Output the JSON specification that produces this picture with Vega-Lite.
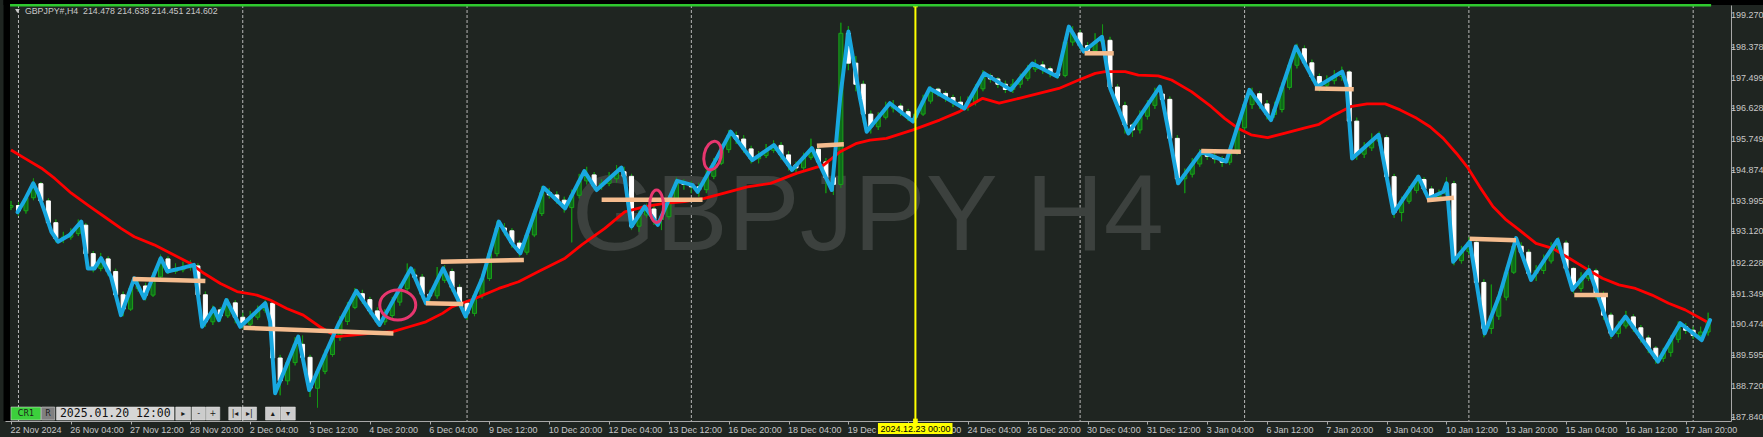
{
"$schema": "https://vega.github.io/schema/vega-lite/v6.json",
"width": 1726, "height": 416,
"autosize": {"type": "none"},
"padding": {"left": 5, "top": 5, "right": 32, "bottom": 16},
"background": "#1f2521",
"config": {"view": {"stroke": null}, "axis": {"labelOverlap": false, "labelBound": false, "labelFlush": false, "grid": false}},
"datasets": {
"sep": [{"i":1},{"i":31},{"i":61},{"i":91},{"i":143},{"i":165},{"i":195},{"i":225}],
"wm": [{"i":114.6,"p":192.58,"t":"GBPJPY H4"}],
"frame": [{"i":-1,"i2":236,"p":199.5546,"p2":199.9},{"i":-1,"i2":-0.133,"p":187.7177,"p2":199.9}],
"ylab": [{"p":187.84,"t":"187.840"},{"p":188.72,"t":"188.720"},{"p":189.59,"t":"189.595"},{"p":190.47,"t":"190.474"},{"p":191.34,"t":"191.349"},{"p":192.22,"t":"192.228"},{"p":193.12,"t":"193.120"},{"p":193.99,"t":"193.995"},{"p":194.87,"t":"194.874"},{"p":195.74,"t":"195.749"},{"p":196.62,"t":"196.628"},{"p":197.49,"t":"197.499"},{"p":198.37,"t":"198.378"},{"p":199.27,"t":"199.270"}],
"candles": [
{"i":0,"o":193.80,"h":193.98,"l":193.72,"c":193.85},{"i":1,"o":193.85,"h":193.95,"l":193.55,"c":193.70},{"i":2,"o":193.70,"h":194.15,"l":193.62,"c":194.07},{"i":3,"o":194.07,"h":194.62,"l":194.00,"c":194.47},{"i":4,"o":194.47,"h":194.52,"l":193.90,"c":193.98},{"i":5,"o":193.98,"h":194.05,"l":193.25,"c":193.36},{"i":6,"o":193.36,"h":193.45,"l":192.80,"c":192.91},{"i":7,"o":192.91,"h":193.10,"l":192.78,"c":192.95},{"i":8,"o":192.95,"h":193.20,"l":192.88,"c":193.05},{"i":9,"o":193.05,"h":193.45,"l":192.98,"c":193.29},
{"i":10,"o":193.29,"h":193.35,"l":192.40,"c":192.48},{"i":11,"o":192.48,"h":192.55,"l":191.95,"c":192.06},{"i":12,"o":192.06,"h":192.50,"l":191.98,"c":192.33},{"i":13,"o":192.33,"h":192.40,"l":191.85,"c":191.97},{"i":14,"o":191.97,"h":192.05,"l":191.20,"c":191.31},{"i":15,"o":191.31,"h":191.40,"l":190.70,"c":190.90},{"i":16,"o":190.90,"h":191.60,"l":190.85,"c":191.49},{"i":17,"o":191.49,"h":191.70,"l":191.40,"c":191.56},{"i":18,"o":191.56,"h":191.65,"l":191.15,"c":191.30},{"i":19,"o":191.30,"h":191.95,"l":191.25,"c":191.82},
{"i":20,"o":191.82,"h":192.45,"l":191.75,"c":192.33},{"i":21,"o":192.33,"h":192.40,"l":191.90,"c":191.97},{"i":22,"o":191.97,"h":192.20,"l":191.90,"c":192.02},{"i":23,"o":192.02,"h":192.25,"l":191.95,"c":192.08},{"i":24,"o":192.08,"h":192.30,"l":192.00,"c":192.13},{"i":25,"o":192.13,"h":192.20,"l":191.20,"c":191.31},{"i":26,"o":191.31,"h":191.40,"l":190.40,"c":190.54},{"i":27,"o":190.54,"h":191.00,"l":190.45,"c":190.88},{"i":28,"o":190.88,"h":190.95,"l":190.55,"c":190.71},{"i":29,"o":190.71,"h":191.20,"l":190.65,"c":191.08},
{"i":30,"o":191.08,"h":191.15,"l":190.50,"c":190.67},{"i":31,"o":190.67,"h":190.80,"l":190.35,"c":190.47},{"i":32,"o":190.47,"h":190.85,"l":190.40,"c":190.67},{"i":33,"o":190.67,"h":191.00,"l":190.60,"c":190.87},{"i":34,"o":190.87,"h":191.15,"l":190.80,"c":191.07},{"i":35,"o":191.07,"h":191.12,"l":189.40,"c":189.51},{"i":36,"o":189.51,"h":189.60,"l":188.45,"c":188.86},{"i":37,"o":188.86,"h":189.50,"l":188.75,"c":189.38},{"i":38,"o":189.38,"h":190.10,"l":189.30,"c":189.90},{"i":39,"o":189.90,"h":190.15,"l":189.40,"c":189.53},
{"i":40,"o":189.53,"h":189.60,"l":188.40,"c":188.65},{"i":41,"o":188.65,"h":189.25,"l":188.10,"c":189.13},{"i":42,"o":189.13,"h":189.75,"l":189.05,"c":189.61},{"i":43,"o":189.61,"h":190.20,"l":189.55,"c":190.09},{"i":44,"o":190.09,"h":190.70,"l":190.00,"c":190.55},{"i":45,"o":190.55,"h":191.10,"l":190.45,"c":190.95},{"i":46,"o":190.95,"h":191.50,"l":190.90,"c":191.34},{"i":47,"o":191.34,"h":191.45,"l":191.05,"c":191.17},{"i":48,"o":191.17,"h":191.25,"l":190.75,"c":190.85},{"i":49,"o":190.85,"h":190.95,"l":190.45,"c":190.54},
{"i":50,"o":190.54,"h":190.90,"l":190.45,"c":190.72},{"i":51,"o":190.72,"h":191.25,"l":190.65,"c":191.10},{"i":52,"o":191.10,"h":191.60,"l":191.00,"c":191.48},{"i":53,"o":191.48,"h":192.20,"l":191.40,"c":191.87},{"i":54,"o":191.87,"h":192.05,"l":191.70,"c":191.81},{"i":55,"o":191.81,"h":191.90,"l":191.20,"c":191.32},{"i":56,"o":191.32,"h":191.45,"l":191.10,"c":191.28},{"i":57,"o":191.28,"h":192.10,"l":191.20,"c":191.72},{"i":58,"o":191.72,"h":192.15,"l":191.65,"c":191.97},{"i":59,"o":191.97,"h":192.05,"l":191.40,"c":191.52},
{"i":60,"o":191.52,"h":191.60,"l":190.95,"c":191.07},{"i":61,"o":191.07,"h":191.15,"l":190.60,"c":190.78},{"i":62,"o":190.78,"h":191.40,"l":190.70,"c":191.28},{"i":63,"o":191.28,"h":191.90,"l":191.20,"c":191.77},{"i":64,"o":191.77,"h":192.60,"l":191.70,"c":192.48},{"i":65,"o":192.48,"h":193.40,"l":192.40,"c":193.21},{"i":66,"o":193.21,"h":193.35,"l":193.00,"c":193.13},{"i":67,"o":193.13,"h":193.20,"l":192.65,"c":192.78},{"i":68,"o":192.78,"h":192.85,"l":192.40,"c":192.52},{"i":69,"o":192.52,"h":193.15,"l":192.45,"c":193.01},
{"i":70,"o":193.01,"h":193.75,"l":192.95,"c":193.62},{"i":71,"o":193.62,"h":194.40,"l":193.55,"c":194.22},{"i":72,"o":194.22,"h":194.35,"l":194.05,"c":194.15},{"i":73,"o":194.15,"h":194.25,"l":193.90,"c":194.00},{"i":74,"o":194.00,"h":194.10,"l":193.65,"c":193.79},{"i":75,"o":193.79,"h":194.30,"l":192.80,"c":194.14},{"i":76,"o":194.14,"h":194.75,"l":194.05,"c":194.55},{"i":77,"o":194.55,"h":194.95,"l":194.45,"c":194.72},{"i":78,"o":194.72,"h":194.80,"l":194.30,"c":194.40},{"i":79,"o":194.40,"h":194.60,"l":194.30,"c":194.48},
{"i":80,"o":194.48,"h":194.80,"l":194.40,"c":194.61},{"i":81,"o":194.61,"h":195.00,"l":194.50,"c":194.81},{"i":82,"o":194.81,"h":194.95,"l":194.55,"c":194.68},{"i":83,"o":194.68,"h":194.75,"l":193.15,"c":193.26},{"i":84,"o":193.26,"h":193.70,"l":193.10,"c":193.58},{"i":85,"o":193.58,"h":193.90,"l":193.50,"c":193.75},{"i":86,"o":193.75,"h":193.85,"l":193.30,"c":193.45},{"i":87,"o":193.45,"h":193.65,"l":193.15,"c":193.53},{"i":88,"o":193.53,"h":194.15,"l":193.45,"c":194.02},{"i":89,"o":194.02,"h":194.65,"l":193.95,"c":194.51},
{"i":90,"o":194.51,"h":194.60,"l":194.30,"c":194.45},{"i":91,"o":194.45,"h":194.55,"l":194.20,"c":194.38},{"i":92,"o":194.38,"h":194.50,"l":194.10,"c":194.30},{"i":93,"o":194.30,"h":194.85,"l":194.20,"c":194.68},{"i":94,"o":194.68,"h":195.20,"l":194.60,"c":195.05},{"i":95,"o":195.05,"h":195.60,"l":195.00,"c":195.44},{"i":96,"o":195.44,"h":196.00,"l":195.35,"c":195.84},{"i":97,"o":195.84,"h":195.95,"l":195.60,"c":195.74},{"i":98,"o":195.74,"h":195.85,"l":195.35,"c":195.46},{"i":99,"o":195.46,"h":195.55,"l":195.05,"c":195.18},
{"i":100,"o":195.18,"h":195.40,"l":195.05,"c":195.27},{"i":101,"o":195.27,"h":195.60,"l":195.20,"c":195.42},{"i":102,"o":195.42,"h":195.70,"l":195.35,"c":195.56},{"i":103,"o":195.56,"h":195.65,"l":195.15,"c":195.29},{"i":104,"o":195.29,"h":195.40,"l":194.85,"c":195.00},{"i":105,"o":195.00,"h":195.10,"l":194.80,"c":194.92},{"i":106,"o":194.92,"h":195.35,"l":194.85,"c":195.22},{"i":107,"o":195.22,"h":195.75,"l":195.15,"c":195.45},{"i":108,"o":195.45,"h":195.55,"l":194.95,"c":195.09},{"i":109,"o":195.09,"h":195.20,"l":194.20,"c":194.64},
{"i":110,"o":194.64,"h":194.80,"l":194.15,"c":194.45},{"i":111,"o":194.45,"h":199.05,"l":194.35,"c":198.75},{"i":112,"o":198.75,"h":198.95,"l":197.70,"c":197.90},{"i":113,"o":197.90,"h":198.10,"l":197.10,"c":197.30},{"i":114,"o":197.30,"h":197.40,"l":196.20,"c":196.45},{"i":115,"o":196.45,"h":196.55,"l":195.90,"c":196.09},{"i":116,"o":196.09,"h":196.50,"l":196.00,"c":196.36},{"i":117,"o":196.36,"h":196.80,"l":196.30,"c":196.62},{"i":118,"o":196.62,"h":196.85,"l":196.50,"c":196.68},{"i":119,"o":196.68,"h":196.75,"l":196.40,"c":196.52},
{"i":120,"o":196.52,"h":196.60,"l":196.25,"c":196.35},{"i":121,"o":196.35,"h":196.60,"l":196.20,"c":196.45},{"i":122,"o":196.45,"h":197.00,"l":196.40,"c":196.82},{"i":123,"o":196.82,"h":197.25,"l":196.75,"c":197.16},{"i":124,"o":197.16,"h":197.20,"l":196.95,"c":197.04},{"i":125,"o":197.04,"h":197.10,"l":196.80,"c":196.92},{"i":126,"o":196.92,"h":197.00,"l":196.65,"c":196.79},{"i":127,"o":196.79,"h":196.95,"l":196.55,"c":196.67},{"i":128,"o":196.67,"h":196.95,"l":196.55,"c":196.79},{"i":129,"o":196.79,"h":197.30,"l":196.70,"c":197.17},
{"i":130,"o":197.17,"h":197.70,"l":197.10,"c":197.54},{"i":131,"o":197.54,"h":197.60,"l":197.35,"c":197.45},{"i":132,"o":197.45,"h":197.50,"l":197.20,"c":197.30},{"i":133,"o":197.30,"h":197.40,"l":197.05,"c":197.15},{"i":134,"o":197.15,"h":197.45,"l":197.05,"c":197.30},{"i":135,"o":197.30,"h":197.60,"l":197.20,"c":197.47},{"i":136,"o":197.47,"h":197.85,"l":197.40,"c":197.73},{"i":137,"o":197.73,"h":198.00,"l":197.65,"c":197.85},{"i":138,"o":197.85,"h":197.95,"l":197.60,"c":197.74},{"i":139,"o":197.74,"h":197.80,"l":197.50,"c":197.62},
{"i":140,"o":197.62,"h":197.75,"l":197.45,"c":197.55},{"i":141,"o":197.55,"h":198.65,"l":197.50,"c":198.50},{"i":142,"o":198.50,"h":198.95,"l":198.40,"c":198.76},{"i":143,"o":198.76,"h":198.85,"l":198.30,"c":198.40},{"i":144,"o":198.40,"h":198.50,"l":198.15,"c":198.25},{"i":145,"o":198.25,"h":198.75,"l":198.20,"c":198.50},{"i":146,"o":198.50,"h":199.00,"l":198.35,"c":198.55},{"i":147,"o":198.55,"h":198.65,"l":197.10,"c":197.22},{"i":148,"o":197.22,"h":197.30,"l":196.55,"c":196.69},{"i":149,"o":196.69,"h":196.80,"l":195.90,"c":196.14},
{"i":150,"o":196.14,"h":196.20,"l":195.80,"c":196.00},{"i":151,"o":196.00,"h":196.55,"l":195.90,"c":196.39},{"i":152,"o":196.39,"h":196.85,"l":196.30,"c":196.70},{"i":153,"o":196.70,"h":197.20,"l":196.60,"c":197.02},{"i":154,"o":197.02,"h":197.10,"l":196.70,"c":196.87},{"i":155,"o":196.87,"h":196.95,"l":195.60,"c":195.76},{"i":156,"o":195.76,"h":195.85,"l":194.45,"c":194.61},{"i":157,"o":194.61,"h":194.90,"l":194.20,"c":194.74},{"i":158,"o":194.74,"h":195.20,"l":194.65,"c":195.03},{"i":159,"o":195.03,"h":195.45,"l":194.95,"c":195.32},
{"i":160,"o":195.32,"h":195.40,"l":195.15,"c":195.25},{"i":161,"o":195.25,"h":195.35,"l":195.05,"c":195.18},{"i":162,"o":195.18,"h":195.25,"l":194.95,"c":195.08},{"i":163,"o":195.08,"h":195.55,"l":195.00,"c":195.40},{"i":164,"o":195.40,"h":196.20,"l":195.30,"c":196.06},{"i":165,"o":196.06,"h":196.90,"l":196.00,"c":196.72},{"i":166,"o":196.72,"h":197.20,"l":196.60,"c":197.03},{"i":167,"o":197.03,"h":197.10,"l":196.60,"c":196.74},{"i":168,"o":196.74,"h":196.85,"l":196.30,"c":196.44},{"i":169,"o":196.44,"h":196.80,"l":196.35,"c":196.58},
{"i":170,"o":196.58,"h":197.35,"l":196.50,"c":197.21},{"i":171,"o":197.21,"h":198.00,"l":197.15,"c":197.84},{"i":172,"o":197.84,"h":198.45,"l":197.75,"c":198.31},{"i":173,"o":198.31,"h":198.40,"l":197.80,"c":197.91},{"i":174,"o":197.91,"h":198.00,"l":197.40,"c":197.52},{"i":175,"o":197.52,"h":197.60,"l":197.10,"c":197.27},{"i":176,"o":197.27,"h":197.55,"l":197.20,"c":197.40},{"i":177,"o":197.40,"h":197.70,"l":197.30,"c":197.52},{"i":178,"o":197.52,"h":197.80,"l":197.40,"c":197.65},{"i":179,"o":197.65,"h":197.70,"l":196.10,"c":196.25},
{"i":180,"o":196.25,"h":196.35,"l":195.15,"c":195.31},{"i":181,"o":195.31,"h":195.65,"l":195.20,"c":195.49},{"i":182,"o":195.49,"h":195.90,"l":195.40,"c":195.68},{"i":183,"o":195.68,"h":195.95,"l":195.55,"c":195.78},{"i":184,"o":195.78,"h":195.85,"l":194.50,"c":194.67},{"i":185,"o":194.67,"h":194.75,"l":193.50,"c":193.65},{"i":186,"o":193.65,"h":194.10,"l":193.40,"c":193.97},{"i":187,"o":193.97,"h":194.40,"l":193.90,"c":194.28},{"i":188,"o":194.28,"h":194.70,"l":194.20,"c":194.59},{"i":189,"o":194.59,"h":194.65,"l":194.20,"c":194.32},
{"i":190,"o":194.32,"h":194.40,"l":193.95,"c":194.09},{"i":191,"o":194.09,"h":194.30,"l":194.00,"c":194.18},{"i":192,"o":194.18,"h":194.65,"l":194.10,"c":194.47},{"i":193,"o":194.47,"h":194.55,"l":192.15,"c":192.28},{"i":194,"o":192.28,"h":192.70,"l":192.20,"c":192.54},{"i":195,"o":192.54,"h":192.95,"l":192.45,"c":192.80},{"i":196,"o":192.80,"h":192.90,"l":191.50,"c":191.66},{"i":197,"o":191.66,"h":191.75,"l":190.10,"c":190.35},{"i":198,"o":190.35,"h":191.60,"l":190.20,"c":190.70},{"i":199,"o":190.70,"h":191.40,"l":190.60,"c":191.24},
{"i":200,"o":191.24,"h":192.10,"l":191.15,"c":191.95},{"i":201,"o":191.95,"h":192.85,"l":191.90,"c":192.69},{"i":202,"o":192.69,"h":192.80,"l":192.40,"c":192.52},{"i":203,"o":192.52,"h":192.60,"l":191.80,"c":191.92},{"i":204,"o":191.92,"h":192.15,"l":191.70,"c":192.00},{"i":205,"o":192.00,"h":192.45,"l":191.90,"c":192.27},{"i":206,"o":192.27,"h":192.80,"l":192.20,"c":192.59},{"i":207,"o":192.59,"h":192.95,"l":192.50,"c":192.78},{"i":208,"o":192.78,"h":192.85,"l":191.95,"c":192.06},{"i":209,"o":192.06,"h":192.10,"l":191.35,"c":191.49},
{"i":210,"o":191.49,"h":191.95,"l":191.40,"c":191.78},{"i":211,"o":191.78,"h":192.15,"l":191.70,"c":191.99},{"i":212,"o":191.99,"h":192.05,"l":191.20,"c":191.34},{"i":213,"o":191.34,"h":191.40,"l":190.60,"c":190.73},{"i":214,"o":190.73,"h":190.80,"l":190.05,"c":190.21},{"i":215,"o":190.21,"h":190.55,"l":190.10,"c":190.42},{"i":216,"o":190.42,"h":190.85,"l":190.35,"c":190.68},{"i":217,"o":190.68,"h":190.75,"l":190.25,"c":190.37},{"i":218,"o":190.37,"h":190.45,"l":189.95,"c":190.08},{"i":219,"o":190.08,"h":190.15,"l":189.65,"c":189.79},
{"i":220,"o":189.79,"h":189.85,"l":189.35,"c":189.50},{"i":221,"o":189.50,"h":189.80,"l":189.40,"c":189.67},{"i":222,"o":189.67,"h":190.15,"l":189.55,"c":190.04},{"i":223,"o":190.04,"h":190.55,"l":189.95,"c":190.40},{"i":224,"o":190.40,"h":190.50,"l":190.20,"c":190.30},{"i":225,"o":190.30,"h":190.40,"l":190.05,"c":190.15},{"i":226,"o":190.15,"h":190.40,"l":190.00,"c":190.25},{"i":227,"o":190.25,"h":190.80,"l":190.15,"c":190.55}
],
"red": [
{"i":0,"p":195.43},{"i":1.86,"p":195.19},{"i":4.08,"p":194.91},{"i":5.85,"p":194.62},{"i":8.07,"p":194.20},{"i":10.28,"p":193.86},{"i":12.5,"p":193.53},{"i":14.71,"p":193.20},{"i":16.49,"p":192.96},{"i":19.15,"p":192.73},{"i":21.81,"p":192.44},{"i":24.02,"p":192.20},{"i":25.8,"p":191.92},{"i":28.01,"p":191.63},{"i":30.23,"p":191.40},{"i":32.89,"p":191.30},{"i":34.66,"p":191.16},{"i":36.88,"p":190.92},{"i":39.09,"p":190.73},{"i":41.31,"p":190.40},{"i":43.53,"p":190.12},{"i":45.74,"p":190.16},{"i":47.96,"p":190.21},{"i":51.06,"p":190.26},{"i":53.28,"p":190.40},{"i":55.5,"p":190.54},{"i":57.71,"p":190.78},{"i":59.04,"p":190.97},{"i":62.14,"p":191.21},{"i":65.25,"p":191.49},{"i":67.9,"p":191.68},{"i":70.56,"p":191.97},{"i":74.11,"p":192.35},{"i":76.33,"p":192.73},{"i":79.43,"p":193.20},{"i":82.09,"p":193.67},{"i":84.75,"p":193.82},{"i":87.41,"p":193.91},{"i":90.07,"p":193.96},{"i":92.73,"p":194.05},{"i":95.39,"p":194.20},{"i":98.49,"p":194.38},{"i":101.6,"p":194.48},{"i":105.14,"p":194.77},{"i":108.69,"p":195.0},{"i":110.9,"p":195.38},{"i":113.12,"p":195.62},{"i":114.89,"p":195.71},{"i":117.1,"p":195.76},{"i":120.65,"p":196.0},{"i":124.2,"p":196.28},{"i":126.86,"p":196.52},{"i":129.96,"p":196.9},{"i":132.18,"p":196.76},{"i":134.84,"p":196.9},{"i":137.5,"p":197.04},{"i":140.16,"p":197.18},{"i":142.82,"p":197.42},{"i":145.03,"p":197.61},{"i":146.36,"p":197.66},{"i":149.02,"p":197.66},{"i":150.79,"p":197.56},{"i":153.45,"p":197.54},{"i":155.23,"p":197.42},{"i":157.89,"p":197.09},{"i":160.55,"p":196.66},{"i":162.32,"p":196.33},{"i":164.09,"p":196.05},{"i":165.87,"p":195.86},{"i":168.08,"p":195.78},{"i":170.3,"p":195.90},{"i":172.96,"p":196.05},{"i":174.95,"p":196.16},{"i":176.95,"p":196.42},{"i":179.16,"p":196.66},{"i":181.38,"p":196.74},{"i":183.82,"p":196.74},{"i":185.81,"p":196.57},{"i":188.03,"p":196.33},{"i":189.8,"p":196.09},{"i":191.57,"p":195.76},{"i":193.35,"p":195.33},{"i":194.9,"p":194.91},{"i":196.45,"p":194.38},{"i":198.22,"p":193.82},{"i":199.99,"p":193.44},{"i":201.77,"p":193.15},{"i":203.98,"p":192.77},{"i":206.2,"p":192.63},{"i":208.42,"p":192.35},{"i":210.63,"p":192.06},{"i":212.85,"p":191.78},{"i":215.07,"p":191.59},{"i":217.28,"p":191.49},{"i":219.5,"p":191.30},{"i":221.71,"p":191.07},{"i":223.93,"p":190.88},{"i":226.81,"p":190.54}
],
"blue": [
{"i":0.88,"p":193.66},{"i":1.95,"p":194.05},{"i":2.97,"p":194.48},{"i":3.63,"p":194.20},{"i":4.52,"p":193.67},{"i":5.41,"p":193.10},{"i":6.29,"p":192.82},{"i":7.84,"p":193.01},{"i":9.4,"p":193.39},{"i":10.28,"p":192.06},{"i":11.17,"p":192.06},{"i":12.05,"p":192.35},{"i":13.38,"p":191.82},{"i":14.71,"p":190.73},{"i":16.49,"p":191.78},{"i":17.82,"p":191.21},{"i":20.03,"p":192.35},{"i":20.92,"p":191.97},{"i":22.69,"p":192.06},{"i":24.47,"p":192.16},{"i":25.57,"p":190.40},{"i":27.13,"p":190.92},{"i":27.79,"p":190.59},{"i":28.81,"p":191.16},{"i":30.67,"p":190.40},{"i":34.0,"p":191.07},{"i":34.66,"p":190.54},{"i":35.33,"p":188.51},{"i":38.43,"p":190.12},{"i":39.89,"p":188.60},{"i":43.75,"p":190.45},{"i":46.19,"p":191.42},{"i":49.29,"p":190.45},{"i":53.5,"p":192.06},{"i":55.5,"p":191.07},{"i":57.8,"p":192.06},{"i":59.7,"p":191.21},{"i":60.81,"p":190.69},{"i":63.03,"p":191.78},{"i":65.25,"p":193.39},{"i":67.02,"p":192.77},{"i":68.13,"p":192.49},{"i":71.23,"p":194.36},{"i":74.11,"p":193.77},{"i":76.68,"p":194.83},{"i":78.32,"p":194.29},{"i":81.65,"p":194.93},{"i":82.09,"p":194.62},{"i":82.98,"p":193.25},{"i":84.75,"p":193.82},{"i":86.52,"p":193.30},{"i":89.09,"p":194.55},{"i":91.18,"p":194.43},{"i":91.84,"p":194.24},{"i":94.5,"p":195.24},{"i":96.27,"p":195.95},{"i":99.15,"p":195.14},{"i":102.04,"p":195.57},{"i":104.47,"p":194.86},{"i":107.13,"p":195.48},{"i":109.79,"p":194.29},{"i":110.9,"p":196.90},{"i":112.01,"p":198.80},{"i":113.56,"p":196.90},{"i":114.45,"p":195.95},{"i":117.55,"p":196.76},{"i":120.65,"p":196.24},{"i":122.87,"p":197.18},{"i":127.52,"p":196.61},{"i":130.18,"p":197.61},{"i":133.73,"p":197.14},{"i":136.61,"p":197.89},{"i":139.93,"p":197.52},{"i":141.49,"p":198.94},{"i":143.48,"p":198.23},{"i":145.92,"p":198.65},{"i":147.03,"p":197.18},{"i":149.46,"p":195.90},{"i":153.67,"p":197.23},{"i":155.0,"p":195.76},{"i":156.11,"p":194.48},{"i":159.22,"p":195.38},{"i":162.54,"p":195.10},{"i":165.64,"p":197.14},{"i":168.53,"p":196.28},{"i":171.85,"p":198.37},{"i":174.73,"p":197.23},{"i":178.05,"p":197.66},{"i":178.63,"p":197.28},{"i":179.38,"p":195.19},{"i":182.93,"p":195.86},{"i":184.92,"p":193.63},{"i":188.25,"p":194.67},{"i":189.58,"p":194.05},{"i":191.57,"p":194.24},{"i":192.02,"p":194.48},{"i":192.9,"p":192.25},{"i":195.12,"p":192.82},{"i":197.11,"p":190.21},{"i":199.11,"p":191.30},{"i":201.32,"p":192.92},{"i":203.32,"p":191.73},{"i":206.87,"p":192.87},{"i":208.86,"p":191.45},{"i":211.08,"p":192.01},{"i":214.09,"p":190.16},{"i":215.95,"p":190.69},{"i":220.3,"p":189.41},{"i":223.27,"p":190.50},{"i":226.15,"p":190.02},{"i":227.26,"p":190.59}
],
"seg": [
{"i":16.27,"p":191.76,"i2":26.0,"p2":191.70},{"i":31.1,"p":190.37,"i2":51.15,"p2":190.21},{"i":55.5,"p":191.07,"i2":60.5,"p2":191.05},{"i":57.5,"p":192.25,"i2":68.6,"p2":192.30},{"i":79.0,"p":194.01,"i2":92.5,"p2":194.01},{"i":107.8,"p":195.55,"i2":111.4,"p2":195.59},{"i":143.6,"p":198.18,"i2":147.5,"p2":198.18},{"i":159.2,"p":195.40,"i2":164.5,"p2":195.38},{"i":174.4,"p":197.18,"i2":179.6,"p2":197.16},{"i":189.4,"p":194.00,"i2":193.0,"p2":194.07},{"i":195.1,"p":192.90,"i2":201.3,"p2":192.86},{"i":209.1,"p":191.30,"i2":213.6,"p2":191.30}
],
"ell": [{"i":51.73,"p":191.02,"e":"a"},{"i":86.35,"p":193.83,"e":"b"},{"i":93.84,"p":195.27,"e":"c"}],
"yl": [{"i":120.97}],
"ylsq": [{"i":120.97,"p":199.5546},{"i":120.97,"p":187.7177}],
"ylbox": [{"i":115.96,"i2":125.93,"p":187.661,"p2":187.348,"t":"2024.12.23 00:00","ic":120.97,"pc":187.504}],
"green": [{"i":-0.13,"i2":227.4,"p":199.546}],
"ttl": [{"i":1.86,"p":199.29,"t":"GBPJPY#,H4\u00a0 214.478 214.638 214.451 214.602"}],
"tri": [{"i":0.86,"p":199.384}],
"wbox": [{"i":0,"i2":3.99,"k":"cr"},{"i":4.08,"i2":5.85,"k":"r"},{"i":6.08,"i2":21.81,"k":"date"},{"i":22.03,"i2":24.03,"k":"btn"},{"i":24.2,"i2":26.0,"k":"btn"},{"i":26.1,"i2":27.93,"k":"btn"},{"i":29.12,"i2":30.8,"k":"btn"},{"i":30.9,"i2":32.85,"k":"btn"},{"i":34.04,"i2":36.0,"k":"btn"},{"i":36.1,"i2":38.03,"k":"btn"}],
"wtxt": [{"i":2.0,"t":"CR1"},{"i":4.96,"t":"R"},{"i":23.03,"t":"▸"},{"i":25.1,"t":"-"},{"i":27.0,"t":"+"},{"i":29.96,"t":"|◂"},{"i":31.88,"t":"▸|"},{"i":35.02,"t":"▴"},{"i":37.06,"t":"▾"}],
"wdate": [{"i":13.95,"t":"2025.01.20 12:00"}]
},
"layer": [
{"data": {"name": "candles"}, "mark": {"type": "rule", "color": "#139613", "strokeWidth": 1},
 "encoding": {
  "x": {"field": "i", "type": "quantitative", "title": null,
   "scale": {"domain": [-0.133, 229.39], "nice": false, "zero": false},
   "axis": {"orient": "bottom", "grid": false, "values": [0,8,16,24,32,40,48,56,64,72,80,88,96,104,112,120,128,136,144,152,160,168,176,184,192,200,208,216,224],
    "labelExpr": "['22 Nov 2024','26 Nov 04:00','27 Nov 12:00','28 Nov 20:00','2 Dec 04:00','3 Dec 12:00','4 Dec 20:00','6 Dec 04:00','9 Dec 12:00','10 Dec 20:00','12 Dec 04:00','13 Dec 12:00','16 Dec 20:00','18 Dec 04:00','19 Dec 12:00','20 Dec 20:00','24 Dec 04:00','26 Dec 20:00','30 Dec 04:00','31 Dec 12:00','3 Jan 04:00','6 Jan 12:00','7 Jan 20:00','9 Jan 04:00','10 Jan 12:00','13 Jan 20:00','15 Jan 04:00','16 Jan 12:00','17 Jan 20:00'][round(datum.value/8)]",
    "labelAlign": "left", "labelBaseline": "top", "labelPadding": 1, "labelFlush": false, "labelOverlap": false, "labelBound": false,
    "labelFont": "Liberation Sans", "labelFontSize": 9, "labelColor": "#c8c8c8", "tickSize": 3, "tickColor": "#a8a8a8", "domainColor": "#a8a8a8", "labelOffset": -1}},
  "y": {"field": "l", "type": "quantitative", "title": null,
   "scale": {"domain": [187.7177, 199.5546], "nice": false, "zero": false},
   "axis": {"orient": "right", "grid": false, "values": [187.84,188.72,189.59,190.47,191.34,192.22,193.12,193.99,194.87,195.74,196.62,197.49,198.37,199.27],
    "labels": false, "tickSize": 3, "tickColor": "#a8a8a8", "domainColor": "#a8a8a8"}},
  "y2": {"field": "h"}
 }},
{"data": {"name": "sep"}, "mark": {"type": "rule", "color": "#b8b8b8", "strokeWidth": 1, "strokeDash": [3, 2]},
 "encoding": {"x": {"field": "i", "type": "quantitative", "title": null}}},
{"data": {"name": "wm"}, "mark": {"type": "text", "font": "Liberation Sans", "fontSize": 108, "color": "#3c413e", "align": "center", "baseline": "alphabetic"},
 "encoding": {"x": {"field": "i", "type": "quantitative", "title": null}, "y": {"field": "p", "type": "quantitative", "title": null}, "text": {"field": "t"}}},
{"data": {"name": "candles"}, "mark": {"type": "rule", "color": "#139613", "strokeWidth": 1},
 "encoding": {"x": {"field": "i", "type": "quantitative", "title": null}, "y": {"field": "l", "type": "quantitative", "title": null}, "y2": {"field": "h"}}},
{"data": {"name": "candles"}, "mark": {"type": "bar", "width": 4, "strokeWidth": 1, "orient": "vertical"},
 "encoding": {"x": {"field": "i", "type": "quantitative", "title": null}, "y": {"field": "o", "type": "quantitative", "title": null}, "y2": {"field": "c"},
  "fill": {"condition": {"test": "datum.c >= datum.o", "value": "#0e6b1a"}, "value": "#ffffff"},
  "stroke": {"condition": {"test": "datum.c >= datum.o", "value": "#19a319"}, "value": "#ffffff"}}},
{"data": {"name": "red"}, "mark": {"type": "line", "color": "#ff0000", "strokeWidth": 2.8, "strokeJoin": "round"},
 "encoding": {"x": {"field": "i", "type": "quantitative", "title": null}, "y": {"field": "p", "type": "quantitative", "title": null}}},
{"data": {"name": "blue"}, "mark": {"type": "line", "color": "#18a8e0", "strokeWidth": 4, "strokeJoin": "round", "strokeCap": "round"},
 "encoding": {"x": {"field": "i", "type": "quantitative", "title": null}, "y": {"field": "p", "type": "quantitative", "title": null}}},
{"data": {"name": "seg"}, "mark": {"type": "rule", "color": "#f5bc8e", "strokeWidth": 4.5},
 "encoding": {"x": {"field": "i", "type": "quantitative", "title": null}, "y": {"field": "p", "type": "quantitative", "title": null}, "x2": {"field": "i2"}, "y2": {"field": "p2"}}},
{"data": {"name": "ell"}, "transform": [{"filter": "datum.e == 'a'"}],
 "mark": {"type": "point", "shape": "M -1.8 0 A 1.8 1.5 0 1 0 1.8 0 A 1.8 1.5 0 1 0 -1.8 0 Z", "size": 400, "filled": false, "stroke": "#e8366f", "strokeWidth": 3, "opacity": 1},
 "encoding": {"x": {"field": "i", "type": "quantitative", "title": null}, "y": {"field": "p", "type": "quantitative", "title": null}}},
{"data": {"name": "ell"}, "transform": [{"filter": "datum.e == 'b'"}],
 "mark": {"type": "point", "shape": "M -0.7 0 A 0.7 1.62 0 1 0 0.7 0 A 0.7 1.62 0 1 0 -0.7 0 Z", "size": 400, "filled": false, "stroke": "#e8366f", "strokeWidth": 3, "opacity": 1},
 "encoding": {"x": {"field": "i", "type": "quantitative", "title": null}, "y": {"field": "p", "type": "quantitative", "title": null}}},
{"data": {"name": "ell"}, "transform": [{"filter": "datum.e == 'c'"}],
 "mark": {"type": "point", "shape": "M -0.85 0 A 0.85 1.45 0 1 0 0.85 0 A 0.85 1.45 0 1 0 -0.85 0 Z", "size": 400, "angle": 12, "filled": false, "stroke": "#e8366f", "strokeWidth": 3, "opacity": 1},
 "encoding": {"x": {"field": "i", "type": "quantitative", "title": null}, "y": {"field": "p", "type": "quantitative", "title": null}}},
{"data": {"name": "yl"}, "mark": {"type": "rule", "color": "#ffff00", "strokeWidth": 2},
 "encoding": {"x": {"field": "i", "type": "quantitative", "title": null}}},
{"data": {"name": "ylsq"}, "mark": {"type": "point", "shape": "square", "size": 22, "filled": true, "color": "#ffff00", "opacity": 1},
 "encoding": {"x": {"field": "i", "type": "quantitative", "title": null}, "y": {"field": "p", "type": "quantitative", "title": null}}},
{"data": {"name": "ylbox"}, "mark": {"type": "rect", "color": "#ffff00"},
 "encoding": {"x": {"field": "i", "type": "quantitative", "title": null}, "x2": {"field": "i2"}, "y": {"field": "p", "type": "quantitative", "title": null}, "y2": {"field": "p2"}}},
{"data": {"name": "ylbox"}, "mark": {"type": "text", "font": "Liberation Sans", "fontSize": 9, "color": "#000000", "align": "center", "baseline": "middle"},
 "encoding": {"x": {"field": "ic", "type": "quantitative", "title": null}, "y": {"field": "pc", "type": "quantitative", "title": null}, "text": {"field": "t"}}},
{"data": {"name": "frame"}, "mark": {"type": "rect", "color": "#000000"},
 "encoding": {"x": {"field": "i", "type": "quantitative", "title": null}, "x2": {"field": "i2"}, "y": {"field": "p", "type": "quantitative", "title": null}, "y2": {"field": "p2"}}},
{"data": {"name": "green"}, "mark": {"type": "rule", "color": "#2fc92f", "strokeWidth": 2.5},
 "encoding": {"x": {"field": "i", "type": "quantitative", "title": null}, "x2": {"field": "i2"}, "y": {"field": "p", "type": "quantitative", "title": null}}},
{"data": {"name": "ttl"}, "mark": {"type": "text", "font": "Liberation Sans", "fontSize": 8.8, "color": "#c8c8c8", "align": "left", "baseline": "alphabetic"},
 "encoding": {"x": {"field": "i", "type": "quantitative", "title": null}, "y": {"field": "p", "type": "quantitative", "title": null}, "text": {"field": "t"}}},
{"data": {"name": "tri"}, "mark": {"type": "point", "shape": "triangle-down", "size": 22, "filled": true, "color": "#c8c8c8", "opacity": 1},
 "encoding": {"x": {"field": "i", "type": "quantitative", "title": null}, "y": {"field": "p", "type": "quantitative", "title": null}}},
{"data": {"name": "ylab"}, "mark": {"type": "text", "font": "Liberation Sans", "fontSize": 9, "color": "#c8c8c8", "align": "left", "baseline": "middle", "dx": 5},
 "encoding": {"x": {"datum": 229.39, "type": "quantitative", "title": null}, "y": {"field": "p", "type": "quantitative", "title": null}, "text": {"field": "t"}}},
{"data": {"name": "wbox"}, "mark": {"type": "rect", "stroke": "#e6e6e6", "strokeWidth": 0.5},
 "encoding": {"x": {"field": "i", "type": "quantitative", "title": null}, "x2": {"field": "i2"},
  "y": {"datum": 188.116, "type": "quantitative", "title": null}, "y2": {"datum": 187.746},
  "fill": {"field": "k", "type": "nominal", "legend": null, "scale": {"domain": ["cr", "r", "date", "btn"], "range": ["#3ccf3c", "#808080", "#d6d6d6", "#cccccc"]}}}},
{"data": {"name": "wtxt"}, "mark": {"type": "text", "font": "DejaVu Sans", "fontSize": 8, "color": "#1a1a1a", "align": "center", "baseline": "middle"},
 "encoding": {"x": {"field": "i", "type": "quantitative", "title": null}, "y": {"datum": 187.931, "type": "quantitative", "title": null}, "text": {"field": "t"}}},
{"data": {"name": "wdate"}, "mark": {"type": "text", "font": "DejaVu Sans Mono", "fontSize": 11.5, "color": "#111111", "align": "center", "baseline": "middle"},
 "encoding": {"x": {"field": "i", "type": "quantitative", "title": null}, "y": {"datum": 187.931, "type": "quantitative", "title": null}, "text": {"field": "t"}}}
]
}
